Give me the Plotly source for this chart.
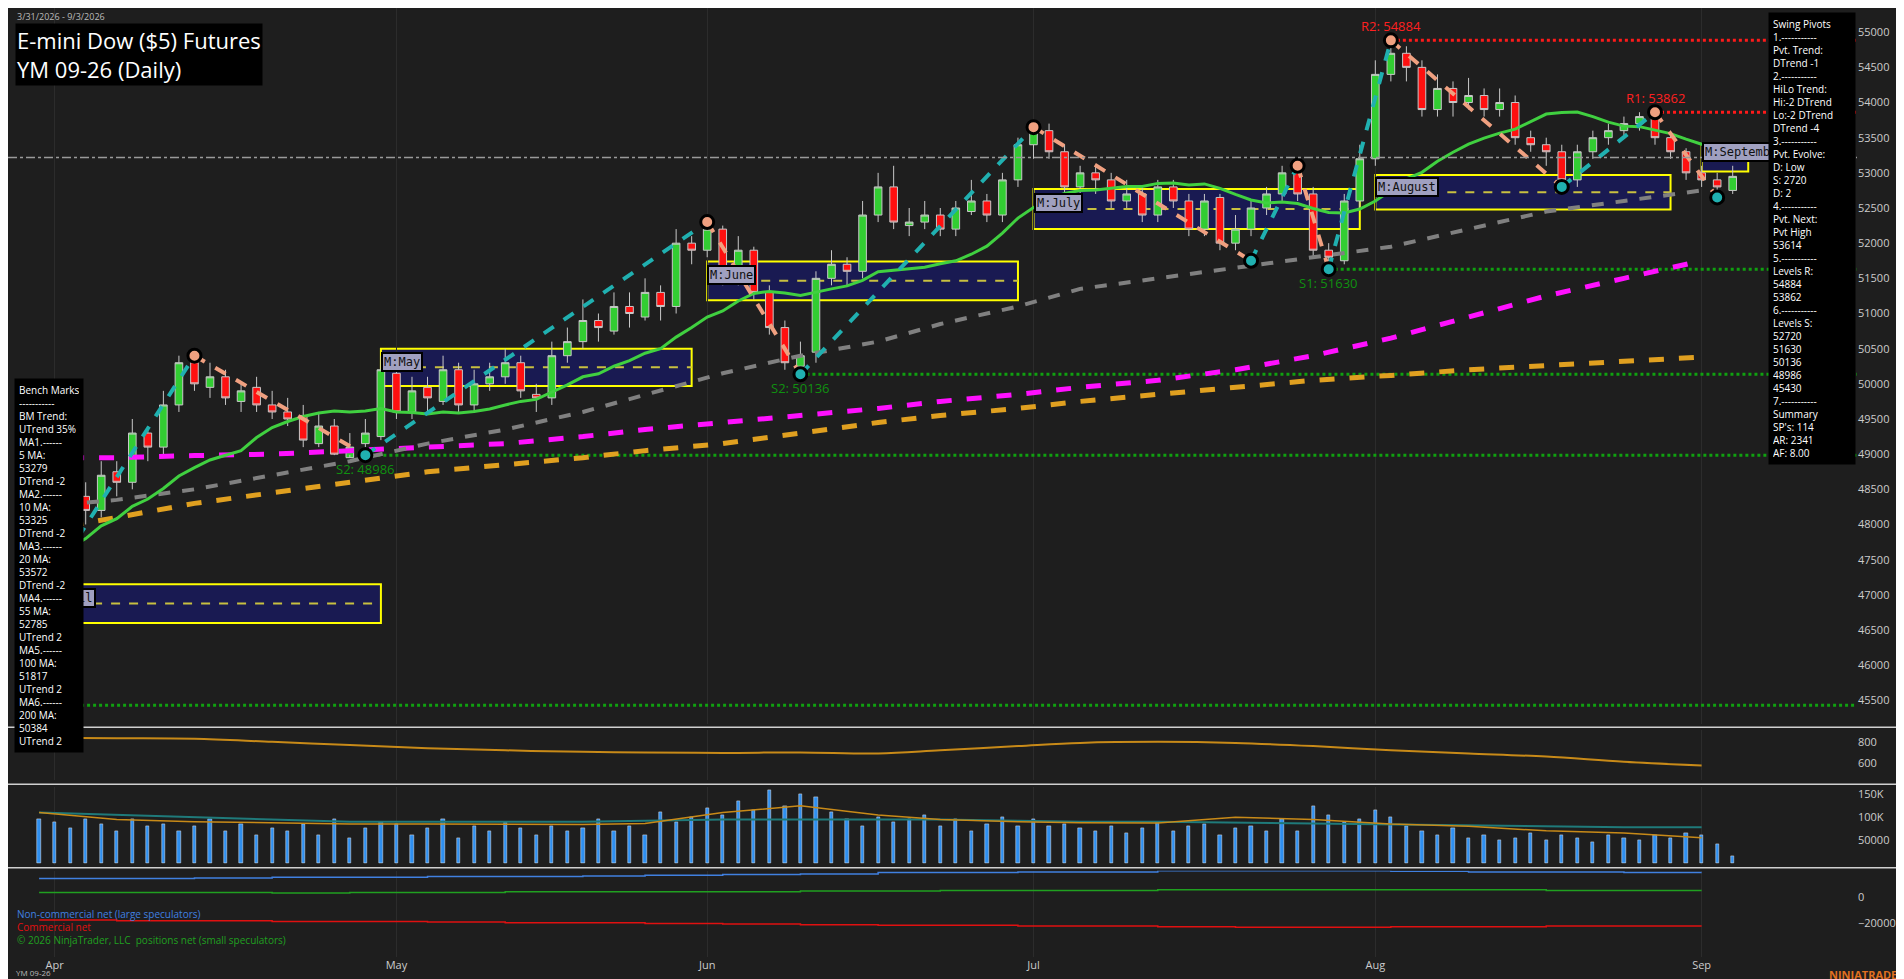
"""
YM 09-26 daily chart, NinjaTrader style, rebuilt with Plotly.
"""

import pandas as pd
import plotly.graph_objects as go

# ---- data ----
holidays = ["2026-05-25", "2026-06-19", "2026-07-03"]
dates = [d for d in pd.bdate_range("2026-03-31", "2026-09-03") if d.strftime("%Y-%m-%d") not in holidays]

closes = [
    47100,
    47600, 48300, 48200, 48700, 48600, 49300, 49100, 49700, 50300, 50000, 50100,
    49800, 49900, 49700, 49600, 49500, 49200, 49400, 49000, 49100, 49300, 50200,
    49600, 49900, 49800, 50200, 49700, 50000, 50100, 50300, 49900, 49800, 50400,
    50600, 50900, 50800, 51100, 51000, 51300, 51100, 52000, 51900,
    52200, 51500, 51900, 51300, 50800, 50300, 50400, 51500, 51700, 51600, 52400,
    52800, 52300, 52300, 52400, 52200, 52500, 52600, 52400, 52900, 53400,
    53600, 53300, 52800, 53000, 52900, 52600, 52700, 52400, 52800, 52600, 52200,
    52600, 52000, 52200, 52500, 52700, 53000, 52700, 51900, 51800, 52600, 53200,
    54400, 54700, 54500, 53900, 54200, 54000, 54100, 53900, 54000, 53500, 53400,
    53300, 52900, 53300, 53500, 53600, 53700, 53800, 53500, 53300, 53000,
    52900, 52800, 52950,
]
opens = [
    47400,
    47150, 47600, 48400, 48200, 48750, 48600, 49300, 49100, 49700, 50300, 49950,
    50100, 49750, 49950, 49700, 49600, 49550, 49150, 49400, 48950, 49150, 49250,
    50150, 49600, 49950, 49750, 50200, 49700, 50000, 50100, 50300, 49850, 49800,
    50400, 50600, 50900, 50750, 51100, 50950, 51300, 51100, 52000,
    51900, 52200, 51500, 51900, 51300, 50800, 50250, 50450, 51500, 51700, 51600,
    52400, 52800, 52250, 52300, 52400, 52200, 52450, 52600, 52400, 52900,
    53400, 53600, 53300, 52800, 53000, 52900, 52600, 52700, 52400, 52800, 52600,
    52200, 52650, 52000, 52200, 52500, 52700, 53000, 52700, 51900, 51750, 52600,
    53200, 54400, 54700, 54500, 53900, 54200, 54000, 54100, 53900, 54000, 53500,
    53400, 53300, 52900, 53300, 53500, 53600, 53700, 53800, 53500, 53300,
    53000, 52900, 52750,
]
highs = [
    47500,
    47800, 48500, 48600, 48900, 48900, 49500, 49400, 49900, 50400, 50350, 50300,
    50200, 50000, 50100, 49900, 49800, 49700, 49600, 49500, 49300, 49500, 50400,
    50250, 50100, 50100, 50400, 50300, 50200, 50300, 50500, 50400, 50000, 50600,
    50800, 51200, 51000, 51300, 51300, 51500, 51400, 52200, 52100,
    52300, 52250, 52100, 51950, 51400, 50900, 50600, 51600, 51900, 51800, 52600,
    53000, 53100, 52500, 52600, 52500, 52600, 52900, 52700, 53000, 53500,
    53650, 53700, 53400, 53100, 53100, 53000, 52900, 52800, 52900, 52900, 52700,
    52700, 52700, 52400, 52600, 52800, 53100, 53100, 52800, 52000, 52700, 53400,
    54600, 54884, 54800, 54600, 54400, 54300, 54350, 54200, 54200, 54100, 53600,
    53500, 53400, 53400, 53600, 53700, 53800, 53862, 53850, 53600, 53350,
    53100, 53000, 53100,
]
lows = [
    46950,
    47050, 47500, 48000, 48100, 48400, 48500, 48900, 49000, 49600, 49900, 49800,
    49700, 49600, 49600, 49500, 49400, 49100, 49100, 48986, 48990, 49100, 49200,
    49500, 49500, 49600, 49700, 49600, 49600, 49900, 50000, 49800, 49600, 49700,
    50300, 50500, 50600, 50700, 50800, 50900, 50900, 51000, 51700,
    51800, 51400, 51400, 51200, 50700, 50200, 50136, 50300, 51400, 51400, 51500,
    52300, 52200, 52100, 52200, 52100, 52100, 52400, 52300, 52300, 52800,
    53200, 53200, 52700, 52700, 52700, 52500, 52500, 52300, 52300, 52500, 52100,
    52100, 51900, 51900, 52100, 52400, 52600, 52600, 51800, 51630, 51700, 52500,
    53100, 54300, 54300, 53800, 53800, 53800, 53900, 53800, 53800, 53400, 53300,
    53100, 52800, 52800, 53200, 53400, 53500, 53600, 53400, 53200, 52900,
    52800, 52650, 52700,
]
volumes = [
    95000,
    90000, 75000, 95000, 85000, 70000, 95000, 80000, 85000, 70000, 80000, 95000,
    70000, 85000, 60000, 75000, 70000, 85000, 60000, 95000, 55000, 75000, 90000,
    85000, 60000, 75000, 95000, 55000, 80000, 70000, 90000, 75000, 60000, 80000,
    70000, 75000, 95000, 70000, 80000, 60000, 110000, 90000, 100000,
    120000, 105000, 135000, 115000, 160000, 125000, 150000, 145000, 110000, 95000, 80000,
    100000, 90000, 95000, 105000, 80000, 95000, 70000, 85000, 100000, 80000,
    95000, 80000, 85000, 75000, 70000, 80000, 65000, 75000, 90000, 70000, 80000,
    85000, 60000, 75000, 80000, 70000, 95000, 70000, 125000, 105000, 90000, 95000,
    115000, 100000, 80000, 70000, 60000, 75000, 55000, 60000, 50000, 55000, 65000,
    50000, 60000, 55000, 45000, 60000, 55000, 50000, 60000, 55000, 65000,
    60000, 40000, 15000,
]

# weekly samples of the slow moving averages and the lower panels
week_dates = pd.date_range("2026-03-31", "2026-09-01", freq="7D")
ma55 = [48250, 48350, 48500, 48700, 48900, 49150, 49350, 49600, 49850, 50150, 50400, 50600,
        50850, 51100, 51350, 51500, 51650, 51800, 51950, 52200, 52450, 52600, 52750]
ma100 = [48950, 48950, 48980, 49000, 49050, 49100, 49150, 49250, 49350, 49450, 49550, 49650,
         49750, 49850, 49950, 50050, 50200, 50400, 50650, 50950, 51250, 51500, 51750]
ma200 = [47900, 48100, 48300, 48450, 48600, 48750, 48850, 48950, 49050, 49150, 49300, 49450,
         49550, 49650, 49750, 49850, 49950, 50050, 50120, 50200, 50260, 50320, 50380]
atr = [840, 835, 830, 800, 770, 740, 720, 705, 700, 695, 700, 690, 720, 760, 790, 800, 790,
       760, 720, 690, 660, 610, 575]
vol_avg = [110000, 95000, 90000, 88000, 85000, 85000, 84000, 84000, 86000, 110000, 125000, 105000,
           95000, 90000, 88000, 87000, 100000, 95000, 85000, 80000, 70000, 65000, 55000]
open_int = [110000, 105000, 100000, 95000, 90000, 90000, 90000, 90000, 92000, 95000, 95000, 95000,
            95000, 92000, 90000, 90000, 88000, 86000, 84000, 82000, 80000, 78000, 78000]
cot_large = [14000, 14000, 14500, 15000, 15000, 15500, 15500, 16000, 16500, 17000, 17500, 18500,
             18500, 19000, 19000, 20000, 20000, 20000, 19500, 19000, 19000, 18500, 18500]
cot_comm = [-17500, -18000, -18000, -18500, -18500, -19000, -19500, -19500, -20000, -20500, -21000,
            -21500, -21500, -22000, -22000, -22500, -23000, -23000, -22500, -22500, -22000, -22000, -22000]
cot_small = [3500, 3500, 3500, 3000, 3500, 3500, 4000, 4000, 4000, 4000, 4500, 4500, 5000, 5000, 5000,
             5500, 5500, 5500, 5500, 5500, 5000, 5000, 5000]

pivot_dates = ["2026-03-31", "2026-04-14", "2026-04-29", "2026-06-01", "2026-06-09", "2026-07-01",
               "2026-07-22", "2026-07-27", "2026-07-29", "2026-08-04", "2026-08-19", "2026-08-27",
               "2026-09-02"]
pivot_prices = [46950, 50400, 48986, 52300, 50136, 53650, 51750, 53100, 51630, 54884, 52800,
                53862, 52650]

months = ["April", "May", "June", "July", "August", "September"]
month_start = ["2026-03-31", "2026-04-30", "2026-06-01", "2026-07-01", "2026-08-03", "2026-09-01"]
month_end = ["2026-04-30", "2026-05-29", "2026-06-30", "2026-07-31", "2026-08-28", "2026-09-04"]
month_lo = [46600, 49970, 51190, 52200, 52480, 53020]
month_hi = [47150, 50500, 51740, 52770, 52970, 53420]

levels = [54884, 53862, 51630, 50136, 48986, 45430]
level_start = ["2026-08-04", "2026-08-27", "2026-07-29", "2026-06-09", "2026-04-29", "2026-03-31"]
level_names = ["R2: 54884", "R1: 53862", "S1: 51630", "S2: 50136", "S2: 48986", ""]
tick_vals = ["2026-04-01", "2026-05-01", "2026-06-01", "2026-07-01", "2026-08-03", "2026-09-01"]
tick_text = ["Apr", "May", "Jun", "Jul", "Aug", "Sep"]

BG = "#1e1e1e"
END = "2026-09-15"

fig = go.Figure()

# monthly value boxes
for i, m in enumerate(months):
    fig.add_shape(type="rect", xref="x", yref="y", x0=month_start[i], x1=month_end[i],
                  y0=month_lo[i], y1=month_hi[i], fillcolor="#191a52",
                  line=dict(color="#ffff00", width=2), layer="below")
    mid = (month_lo[i] + month_hi[i]) / 2
    fig.add_shape(type="line", xref="x", yref="y", x0=month_start[i], x1=month_end[i],
                  y0=mid, y1=mid, line=dict(color="#c8c040", width=2, dash="dash"), layer="below")
    fig.add_annotation(x=month_start[i], y=mid + 80, xref="x", yref="y", text="M:" + m,
                       showarrow=False, xanchor="left", bgcolor="#a0a0c0", bordercolor="black",
                       borderwidth=2, font=dict(family="DejaVu Sans Mono", size=12, color="#111"))

# dash-dot reference line
fig.add_shape(type="line", xref="paper", yref="y", x0=0, x1=1, y0=53220, y1=53220,
              line=dict(color="#9a9a9a", width=1.5, dash="dashdot"))

# pivot levels
for lv, st, nm in zip(levels, level_start, level_names):
    col = "#ff1a1a" if lv > 53000 else "#10a010"
    fig.add_trace(go.Scatter(x=[st, END], y=[lv, lv], mode="lines", hoverinfo="skip",
                             line=dict(color=col, width=3, dash="dot"), showlegend=False))
    if nm:
        fig.add_annotation(x=st, y=lv, text=nm, showarrow=False, yshift=-14 if lv < 53000 else 14,
                           font=dict(color="#ff2020" if lv > 53000 else "#109010", size=13))

# slow moving averages
fig.add_trace(go.Scatter(x=week_dates, y=ma200, mode="lines", line=dict(color="#e0a020", width=5, dash="dash"), showlegend=False))
fig.add_trace(go.Scatter(x=week_dates, y=ma100, mode="lines", line=dict(color="#ff10ff", width=5, dash="dash"), showlegend=False))
fig.add_trace(go.Scatter(x=week_dates, y=ma55, mode="lines", line=dict(color="#808080", width=4, dash="dash"), showlegend=False))
ma20 = pd.Series(closes).rolling(14, min_periods=1).mean()
fig.add_trace(go.Scatter(x=dates, y=ma20, mode="lines", line=dict(color="#40d040", width=3), showlegend=False))

# swing lines
for i in range(len(pivot_dates) - 1):
    up = pivot_prices[i + 1] > pivot_prices[i]
    fig.add_trace(go.Scatter(x=pivot_dates[i:i + 2], y=pivot_prices[i:i + 2], mode="lines",
                             line=dict(color="#20b0b0" if up else "#f0a080", width=4, dash="dash"),
                             showlegend=False, hoverinfo="skip"))
pivot_cols = ["#20b0b0" if i % 2 == 0 else "#f0a080" for i in range(len(pivot_prices))]
pivot_cols[6:] = ["#20b0b0", "#f0a080", "#20b0b0", "#f0a080", "#20b0b0", "#f0a080", "#20b0b0"]
fig.add_trace(go.Scatter(x=pivot_dates, y=pivot_prices, mode="markers", showlegend=False,
                         marker=dict(size=13, color=pivot_cols, line=dict(color="black", width=3))))

fig.add_trace(go.Candlestick(x=dates, open=opens, high=highs, low=lows, close=closes,
                             increasing=dict(fillcolor="#32cd32", line=dict(color="#c8c8c8", width=1)),
                             decreasing=dict(fillcolor="#ff1010", line=dict(color="#c8c8c8", width=1)),
                             whiskerwidth=0, showlegend=False))

# lower panels
fig.add_trace(go.Scatter(x=week_dates, y=atr, xaxis="x2", yaxis="y2", mode="lines",
                         line=dict(color="#c88a18", width=2, shape="spline"), showlegend=False))
fig.add_trace(go.Bar(x=dates, y=volumes, xaxis="x3", yaxis="y3", marker_color="#2e8ff0",
                     width=1000 * 3600 * 5, showlegend=False))
fig.add_trace(go.Scatter(x=week_dates, y=open_int, xaxis="x3", yaxis="y3", mode="lines",
                         line=dict(color="#1f7a7a", width=2), showlegend=False))
fig.add_trace(go.Scatter(x=week_dates, y=vol_avg, xaxis="x3", yaxis="y3", mode="lines",
                         line=dict(color="#c88a18", width=1.5), showlegend=False))
for ys, col in [(cot_large, "#4080e0"), (cot_comm, "#e01010"), (cot_small, "#20a020")]:
    fig.add_trace(go.Scatter(x=week_dates, y=ys, xaxis="x4", yaxis="y4", mode="lines", line_shape="hv",
                             line=dict(color=col, width=1.5), showlegend=False))

rb = [dict(bounds=["sat", "mon"]), dict(values=holidays)]
xcommon = dict(range=["2026-03-27", END], rangebreaks=rb, showgrid=True, gridcolor="#2c2c2c",
               zeroline=False, tickvals=tick_vals, ticktext=tick_text, tickfont=dict(color="#cccccc", size=11))
ycommon = dict(side="right", showgrid=False, zeroline=False, tickfont=dict(color="#cccccc", size=11),
               ticks="", tickformat="d")

fig.update_layout(
    width=1904, height=979, paper_bgcolor=BG, plot_bgcolor=BG,
    margin=dict(l=0, r=55, t=0, b=30),
    showlegend=False, bargap=0,
    xaxis=dict(**xcommon, rangeslider=dict(visible=False), showticklabels=False, anchor="y"),
    xaxis2=dict(**xcommon, matches="x", showticklabels=False, anchor="y2"),
    xaxis3=dict(**xcommon, matches="x", showticklabels=False, anchor="y3"),
    xaxis4=dict(**xcommon, matches="x", anchor="y4"),
    yaxis=dict(**ycommon, domain=[0.245, 1], range=[45156, 55344], dtick=500),
    yaxis2=dict(**ycommon, domain=[0.186, 0.239], range=[433, 911], tickvals=[600, 800]),
    yaxis3=dict(**ycommon, domain=[0.097, 0.179], range=[-5000, 166000],
                tickvals=[50000, 100000, 150000], ticktext=["50000", "100K", "150K"]),
    yaxis4=dict(**ycommon, domain=[0, 0.091], range=[-45500, 20000], tickvals=[0, -20000]),
)
for yv in [0.242, 0.182, 0.094]:
    fig.add_shape(type="line", xref="paper", yref="paper", x0=0, x1=1.03, y0=yv, y1=yv,
                  line=dict(color="#d0d0d0", width=1.5))

# text blocks
fig.add_annotation(xref="paper", yref="paper", x=0.004, y=1.0, text="3/31/2026 - 9/3/2026", showarrow=False,
                   xanchor="left", yanchor="top", font=dict(color="#bbbbbb", size=9))
fig.add_annotation(xref="paper", yref="paper", x=0.004, y=0.984,
                   text="E-mini Dow ($5) Futures<br>YM 09-26 (Daily)", showarrow=False, align="left",
                   xanchor="left", yanchor="top", bgcolor="#000000", font=dict(color="white", size=22))
pivot_txt = ("Swing Pivots<br>1.-----------<br>Pvt. Trend:<br>DTrend -1<br>2.-----------<br>HiLo Trend:<br>"
             "Hi:-2 DTrend<br>Lo:-2 DTrend<br>DTrend -4<br>3.-----------<br>Pvt. Evolve:<br>D: Low<br>S: 2720<br>"
             "D: 2<br>4.-----------<br>Pvt. Next:<br>Pvt High<br>53614<br>5.-----------<br>Levels R:<br>54884<br>"
             "53862<br>6.-----------<br>Levels S:<br>52720<br>51630<br>50136<br>48986<br>45430<br>7.-----------<br>"
             "Summary<br>SP's: 114<br>AR: 2341<br>AF: 8.00")
fig.add_annotation(xref="paper", yref="paper", x=0.952, y=0.996, text=pivot_txt, showarrow=False, align="left",
                   xanchor="left", yanchor="top", bgcolor="#000000", borderpad=4, width=78,
                   font=dict(color="white", size=10))
bench_txt = ("Bench Marks<br>-----------<br>BM Trend:<br>UTrend 35%<br>MA1.------<br>5 MA:<br>53279<br>DTrend -2<br>"
             "MA2.------<br>10 MA:<br>53325<br>DTrend -2<br>MA3.------<br>20 MA:<br>53572<br>DTrend -2<br>MA4.------<br>"
             "55 MA:<br>52785<br>UTrend 2<br>MA5.------<br>100 MA:<br>51817<br>UTrend 2<br>MA6.------<br>200 MA:<br>50384<br>UTrend 2")
fig.add_annotation(xref="paper", yref="paper", x=0.003, y=0.61, text=bench_txt, showarrow=False, align="left",
                   xanchor="left", yanchor="top", bgcolor="#000000", borderpad=4, width=60,
                   font=dict(color="white", size=10))
fig.add_annotation(xref="paper", yref="paper", x=0.004, y=0.055, showarrow=False, align="left",
                   xanchor="left", yanchor="top", font=dict(size=10),
                   text="<span style='color:#4080e0'>Non-commercial net (large speculators)</span><br>"
                        "<span style='color:#e01010'>Commercial net</span><br>"
                        "<span style='color:#20a020'>© 2026 NinjaTrader, LLC  positions net (small speculators)</span>")
fig.add_annotation(xref="paper", yref="paper", x=0.003, y=-0.008, text="YM 09-26", showarrow=False,
                   xanchor="left", yanchor="top", font=dict(color="#bbbbbb", size=8))
fig.add_annotation(xref="paper", yref="paper", x=1.027, y=-0.008, text="<b>NINJATRADER</b>", showarrow=False,
                   xanchor="right", yanchor="top", font=dict(color="#e07020", size=11))

fig.write_html("out.html")
